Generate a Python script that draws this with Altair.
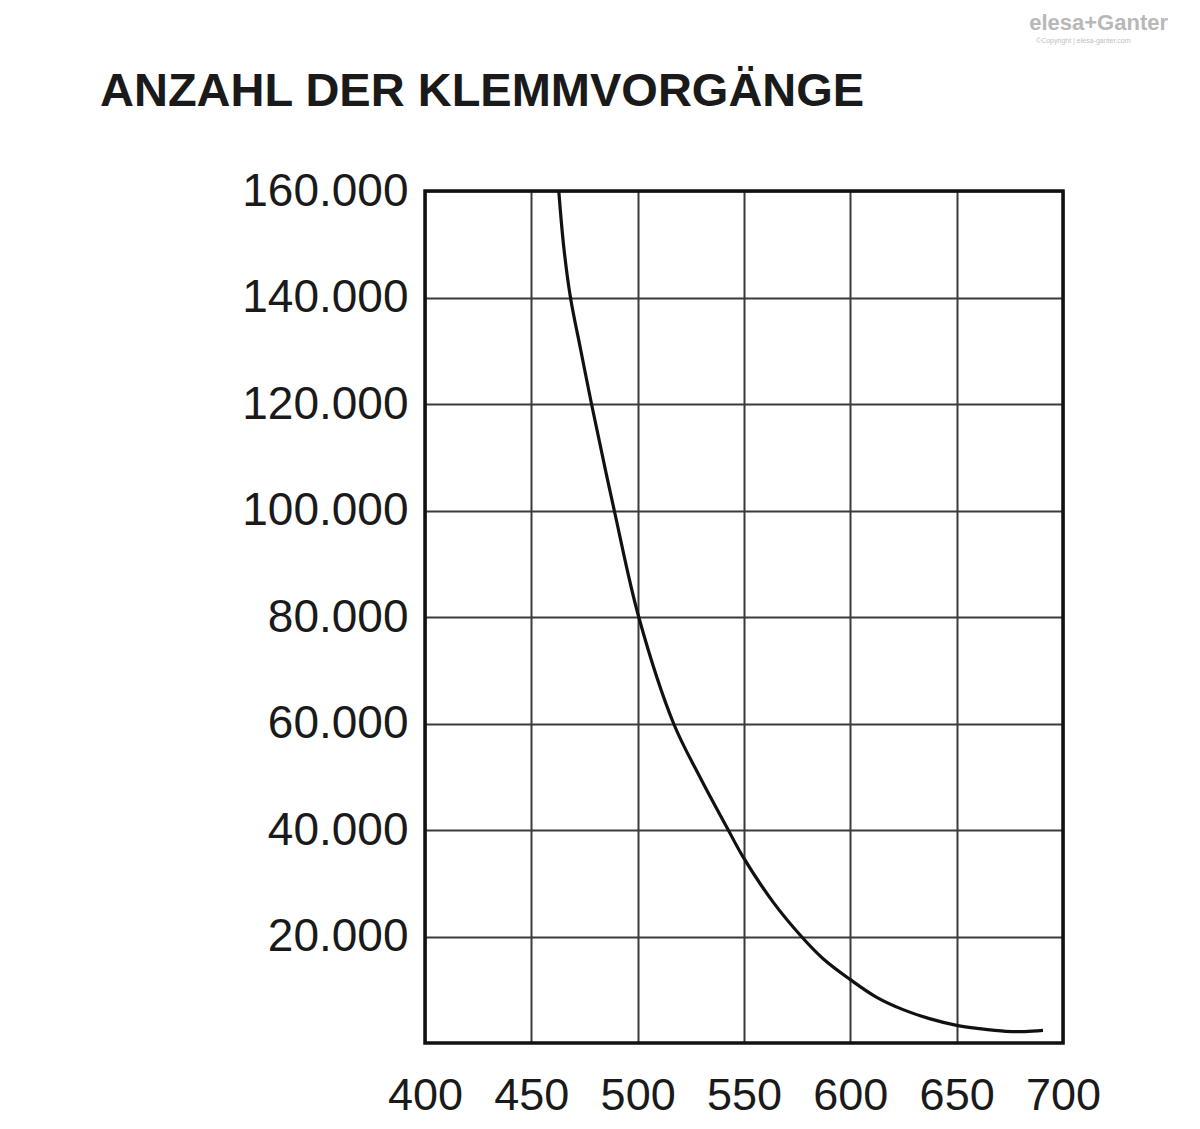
import altair as alt
import pandas as pd

# Curve (x axis value, number of clamping cycles)
curve_x = [462.9, 465.3, 468.4, 473.3, 478.3, 489.0, 500.5, 516.9, 529.2, 542.6,
           549.2, 563.7, 577.0, 587.2, 600.0, 612.2, 624.8, 637.2, 650.0, 660.7,
           673.2, 682.0, 690.6]
curve_y = [160000, 149300, 140000, 130000, 120000, 100000, 80000, 60000, 50000, 40000,
           35200, 26450, 20000, 15830, 11900, 8630, 6270, 4580, 3320, 2700,
           2200, 2150, 2380]

x_ticks = [400, 450, 500, 550, 600, 650, 700]
y_ticks = [20000, 40000, 60000, 80000, 100000, 120000, 140000, 160000]

title_text = "ANZAHL DER KLEMMVORGÄNGE"
logo_text = "elesa+Ganter"
copyright_text = "©Copyright | elesa-ganter.com"

df = pd.DataFrame({"x": curve_x, "y": curve_y})

FONT = "Liberation Sans"
W, H = 638, 852

line = alt.Chart(df).mark_line(color="#111111", strokeWidth=3.2, interpolate="catmull-rom").encode(
    x=alt.X("x:Q",
            scale=alt.Scale(domain=[400, 700], nice=False, zero=False),
            axis=alt.Axis(values=x_ticks, title=None, grid=True, gridColor="#3a3a3a",
                          gridWidth=2, gridOpacity=1, domain=False, ticks=False,
                          labelFont=FONT, labelFontSize=45, labelColor="#1a1a1a",
                          labelPadding=30, labelFlush=False)),
    y=alt.Y("y:Q",
            scale=alt.Scale(domain=[0, 160000], nice=False),
            axis=alt.Axis(values=y_ticks, title=None, grid=True, gridColor="#3a3a3a",
                          gridWidth=2, gridOpacity=1, domain=False, ticks=False,
                          labelFont=FONT, labelFontSize=46, labelColor="#1a1a1a",
                          labelPadding=17, labelFlush=False,
                          labelExpr="replace(format(datum.value, ','), ',', '.')")),
)

frame = alt.Chart(pd.DataFrame({"k": [0]})).mark_rect(
    fill=None, fillOpacity=0, stroke="#111111", strokeWidth=3.5
).encode(x=alt.value(0), x2=alt.value(W), y=alt.value(0), y2=alt.value(H))

title = alt.Chart(pd.DataFrame({"t": [title_text]})).mark_text(
    font=FONT, fontSize=47, fontWeight="bold", color="#1a1a1a", align="left",
    baseline="alphabetic"
).encode(text="t:N", x=alt.value(-325), y=alt.value(-85))

logo = alt.Chart(pd.DataFrame({"t": [logo_text]})).mark_text(
    font=FONT, fontSize=22, fontWeight="bold", color="#b8b8b8", align="right",
    baseline="alphabetic"
).encode(text="t:N", x=alt.value(743), y=alt.value(-161))

copyright = alt.Chart(pd.DataFrame({"t": [copyright_text]})).mark_text(
    font=FONT, fontSize=7, color="#c0c0c0", align="left", baseline="alphabetic"
).encode(text="t:N", x=alt.value(611), y=alt.value(-148))

chart = alt.layer(line, frame, title, logo, copyright).properties(
    width=W,
    height=H,
    autosize=alt.AutoSizeParams(type="none"),
    padding={"left": 417, "top": 183, "right": 129, "bottom": 78},
).configure_view(strokeWidth=0).configure(background="white")

chart.save("out.html", embed_options={"renderer": "svg", "actions": False})
